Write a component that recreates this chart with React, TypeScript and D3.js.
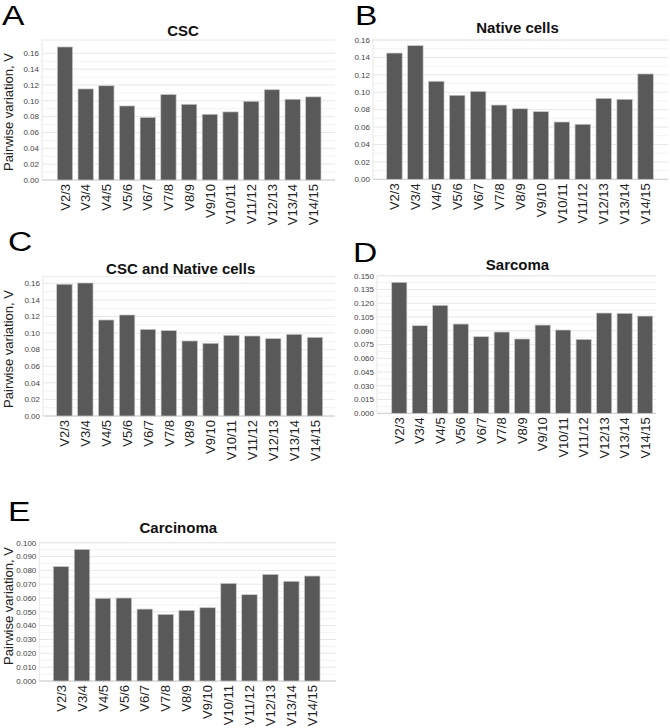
import React from "react";
import * as d3 from "d3";

const categories = ["V2/3", "V3/4", "V4/5", "V5/6", "V6/7", "V7/8", "V8/9", "V9/10", "V10/11", "V11/12", "V12/13", "V13/14", "V14/15"];

const cscValues = [0.168, 0.115, 0.119, 0.0935, 0.079, 0.108, 0.0956, 0.083, 0.086, 0.0994, 0.114, 0.102, 0.105];
const nativeValues = [0.145, 0.1535, 0.1126, 0.0965, 0.101, 0.0853, 0.081, 0.0777, 0.0658, 0.0632, 0.093, 0.0919, 0.121];
const cscNativeValues = [0.1589, 0.1604, 0.1158, 0.1218, 0.1045, 0.103, 0.0905, 0.0877, 0.0973, 0.0965, 0.0933, 0.0985, 0.0949];
const sarcomaValues = [0.1428, 0.0955, 0.1177, 0.0973, 0.0835, 0.0886, 0.081, 0.0962, 0.0908, 0.0806, 0.1093, 0.109, 0.106];
const carcinomaValues = [0.0827, 0.0952, 0.0598, 0.06, 0.052, 0.0482, 0.0511, 0.053, 0.0706, 0.0624, 0.0771, 0.0721, 0.0759];

const ticks02 = [0, 0.02, 0.04, 0.06, 0.08, 0.1, 0.12, 0.14, 0.16];
const ticks015 = [0, 0.015, 0.03, 0.045, 0.06, 0.075, 0.09, 0.105, 0.12, 0.135, 0.15];
const ticks010 = [0, 0.01, 0.02, 0.03, 0.04, 0.05, 0.06, 0.07, 0.08, 0.09, 0.1];

const panelLetters = ["A", "B", "C", "D", "E"];
const panelTitles = ["CSC", "Native cells", "CSC and Native cells", "Sarcoma", "Carcinoma"];
const yAxisTitle = "Pairwise variation, V";

type Layout = {
  frame: [number, number, number, number]; // left, right, top, bottom
  bars: [number, number];
  yMax: number;
  letter: [number, number];
  title: [number, number];
  yLabel: [number, number] | null;
  fmt: string;
};

const layouts: Layout[] = [
  { frame: [42, 335, 40, 180], bars: [57.3, 321], yMax: 0.1768, letter: [2, 25], title: [183, 35.5], yLabel: [12.5, 112], fmt: ".2f" },
  { frame: [373, 668, 40, 179.3], bars: [386.7, 653.3], yMax: 0.16, letter: [355, 25], title: [517.5, 32.7], yLabel: null, fmt: ".2f" },
  { frame: [43, 335, 276.7, 416], bars: [56.7, 322.7], yMax: 0.168, letter: [8, 251], title: [180.7, 274], yLabel: [13, 349], fmt: ".2f" },
  { frame: [377, 656, 275.7, 413.3], bars: [391.7, 652.7], yMax: 0.15, letter: [353, 261.5], title: [517.5, 270], yLabel: null, fmt: ".3f" },
  { frame: [39.3, 336, 542.7, 681], bars: [53.3, 320], yMax: 0.1, letter: [8, 520.7], title: [178.3, 533.3], yLabel: [12.7, 606], fmt: ".3f" },
];

const panelValues = [cscValues, nativeValues, cscNativeValues, sarcomaValues, carcinomaValues];
const panelTicks = [ticks02, ticks02, ticks02, ticks015, ticks010];

const FONT = "'Liberation Sans', Arial, Helvetica, sans-serif";

function Panel({ idx }: { idx: number }) {
  const L = layouts[idx];
  const values = panelValues[idx];
  const ticks = panelTicks[idx];
  const [left, right, top, bottom] = L.frame;
  const y = d3.scaleLinear().domain([0, L.yMax]).range([bottom, top]);
  const x = d3.scaleBand<string>().domain(categories).range(L.bars).paddingInner(0.26).paddingOuter(0);
  const fmt = d3.format(L.fmt);
  const minor = ticks.slice(1).map((t, i) => (t + ticks[i]) / 2);
  return (
    <g>
      <text x={0} y={0} fontFamily={FONT} fontSize={28} fill="#000"
        transform={`translate(${L.letter[0]},${L.letter[1]}) scale(1.2,1)`}>{panelLetters[idx]}</text>
      <text x={L.title[0]} y={L.title[1]} fontFamily={FONT} fontSize={15} fontWeight="bold" textAnchor="middle" fill="#111">{panelTitles[idx]}</text>
      {minor.map((t, i) => (
        <line key={"m" + i} x1={left} x2={right} y1={y(t)} y2={y(t)} stroke="#f3f3f3" strokeWidth={1} />
      ))}
      {ticks.map((t, i) => (
        <line key={"g" + i} x1={left} x2={right} y1={y(t)} y2={y(t)} stroke="#e8e8e8" strokeWidth={1} />
      ))}
      <line x1={left} x2={right} y1={top} y2={top} stroke="#e8e8e8" />
      <line x1={left} x2={left} y1={top} y2={bottom} stroke="#e6e6e6" />
      <line x1={left} x2={right} y1={bottom} y2={bottom} stroke="#cfcfcf" />
      {ticks.map((t, i) => (
        <text key={"t" + i} x={left - 3} y={y(t)} dy="0.35em" fontFamily={FONT} fontSize={8} textAnchor="end" fill="#444">{fmt(t)}</text>
      ))}
      {categories.map((c, i) => (
        <rect key={"b" + i} x={x(c)} y={y(values[i])} width={x.bandwidth()} height={bottom - y(values[i])}
          fill="#595959" stroke="#c8c8c8" strokeWidth={0.7} />
      ))}
      {categories.map((c, i) => (
        <text key={"x" + i} fontFamily={FONT} fontSize={13} fill="#222" textAnchor="end" dy="0.36em"
          transform={`translate(${(x(c) as number) + x.bandwidth() / 2},${bottom + 4}) rotate(-90)`}>{c}</text>
      ))}
      {L.yLabel && (
        <text fontFamily={FONT} fontSize={13} fill="#222" textAnchor="middle"
          transform={`translate(${L.yLabel[0]},${L.yLabel[1]}) rotate(-90)`}>{yAxisTitle}</text>
      )}
    </g>
  );
}

export default function App() {
  return (
    <svg width={670} height={728} style={{ position: "absolute", left: 0, top: 0, background: "#fff" }}>
      <rect width={670} height={728} fill="#fff" />
      {layouts.map((_, i) => <Panel key={i} idx={i} />)}
    </svg>
  );
}
